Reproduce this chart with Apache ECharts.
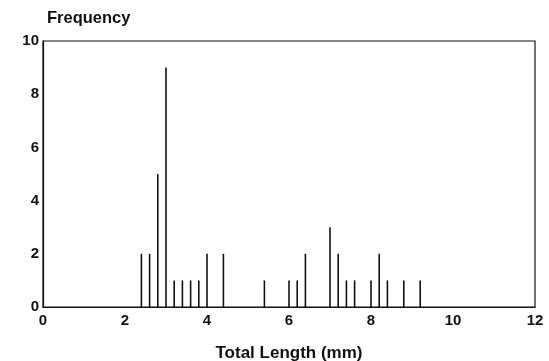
<!DOCTYPE html>
<html>
<head>
<meta charset="utf-8">
<script src="https://cdn.jsdelivr.net/npm/echarts@6/dist/echarts.min.js"></script>
<style>
  html, body { margin: 0; padding: 0; background: #fff; }
  #chart { width: 549px; height: 361px; }
</style>
</head>
<body>
<div id="chart"></div>
<script>
// total length (mm) and how many animals had it
var lengths = [2.4, 2.6, 2.8, 3.0, 3.2, 3.4, 3.6, 3.8, 4.0, 4.4, 5.4, 6.0, 6.2, 6.4,
  7.0, 7.2, 7.4, 7.6, 8.0, 8.2, 8.4, 8.8, 9.2];
var counts = [2, 2, 5, 9, 1, 1, 1, 1, 2, 2, 1, 1, 1, 2,
  3, 2, 1, 1, 1, 2, 1, 1, 1];
var xTicks = [0, 2, 4, 6, 8, 10, 12];
var yTicks = [0, 2, 4, 6, 8, 10];

var font = 'Liberation Sans, Arial, sans-serif';
var chart = echarts.init(document.getElementById('chart'));

var spikes = lengths.map(function (x, i) {
  return [x, counts[i]];
});

chart.setOption({
  animation: false,
  grid: {
    left: 43,
    right: 14,
    top: 41,
    bottom: 54,
    outerBoundsMode: 'none',
    show: true,
    borderColor: '#111',
    borderWidth: 1.2
  },
  xAxis: {
    type: 'value',
    min: 0,
    max: 12,
    interval: 2,
    name: 'Total Length (mm)',
    nameLocation: 'middle',
    nameGap: 38,
    nameTextStyle: { fontFamily: font, fontWeight: 'bold', fontSize: 17, color: '#111' },
    axisLine: { lineStyle: { color: '#111', width: 1.2 } },
    axisTick: { show: false },
    splitLine: { show: false },
    axisLabel: {
      fontFamily: font, fontWeight: 'bold', fontSize: 15, color: '#111', margin: 6,
      formatter: function (v) { return xTicks.indexOf(v) >= 0 ? String(v) : ''; }
    }
  },
  yAxis: {
    type: 'value',
    min: 0,
    max: 10,
    interval: 2,
    name: 'Frequency',
    nameLocation: 'end',
    nameGap: 14,
    nameTextStyle: { fontFamily: font, fontWeight: 'bold', fontSize: 16.5, color: '#111', align: 'left', padding: [0, 0, 0, 4] },
    axisLine: { show: true, lineStyle: { color: '#111', width: 1.2 } },
    axisTick: { show: false },
    splitLine: { show: false },
    axisLabel: {
      fontFamily: font, fontWeight: 'bold', fontSize: 15, color: '#111', margin: 4,
      formatter: function (v) { return yTicks.indexOf(v) >= 0 ? String(v) : ''; }
    }
  },
  series: [{
    type: 'bar',
    data: spikes,
    barWidth: 1.6,
    itemStyle: { color: '#111' }
  }]
});
</script>
</body>
</html>
